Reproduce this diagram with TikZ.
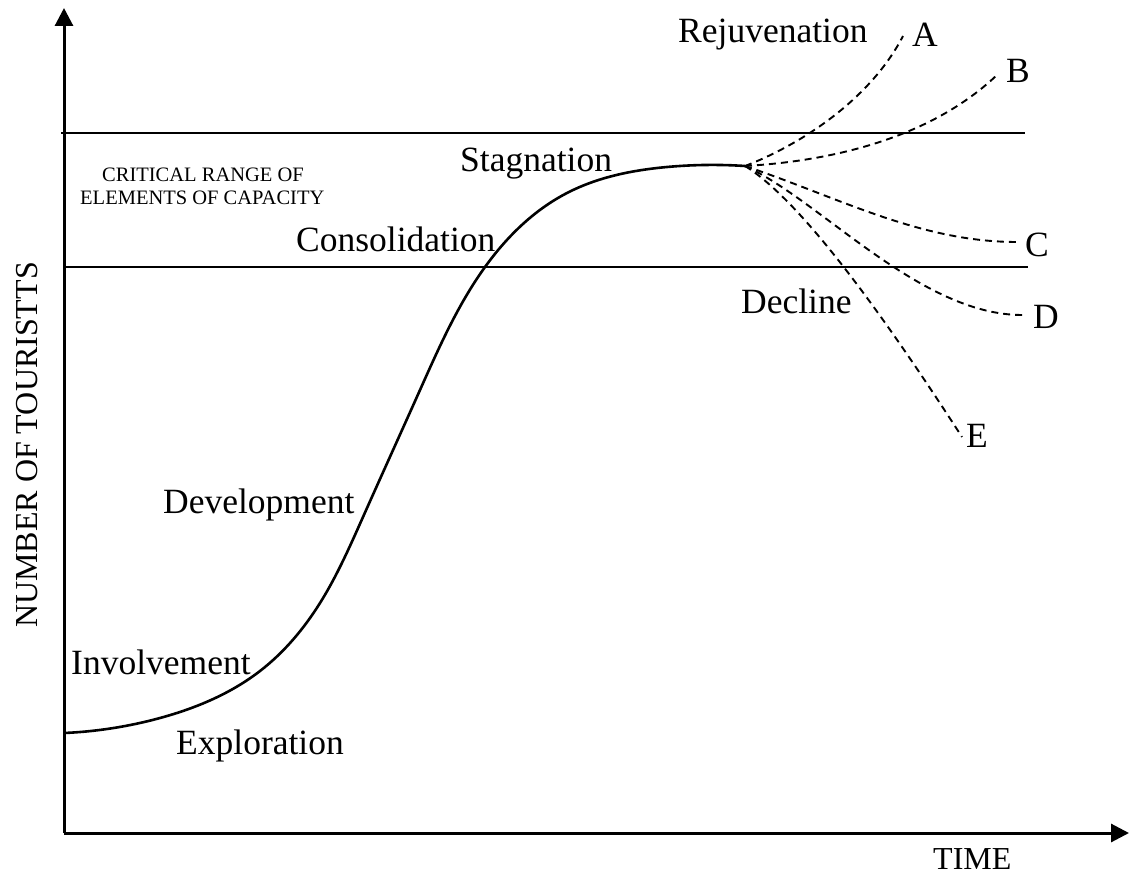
\documentclass[tikz,border=0pt]{standalone}
\usepackage{fontspec}
\setmainfont{Liberation Serif}
\usetikzlibrary{arrows.meta,hobby}
\begin{document}
\begin{tikzpicture}[x=1pt,y=-1pt,
  axis/.style={line width=3pt,-{Triangle[length=18pt,width=18pt]}},
  limit/.style={line width=2.8pt},
  life/.style={line width=2.6pt},
  branch/.style={line width=1.9pt,dash pattern=on 7pt off 5pt},
  stage/.style={inner sep=0pt,anchor=base west,font=\fontsize{35.5}{40}\selectfont},
  small/.style={inner sep=0pt,anchor=base west,font=\fontsize{20.5}{24}\selectfont},
  axislabel/.style={inner sep=0pt,anchor=base west,font=\fontsize{32}{36}\selectfont}]
\useasboundingbox (0,0) rectangle (1131,874);

% axes
\coordinate (origin) at (64,833);
\coordinate (ytop) at (64,8);
\coordinate (xend) at (1129,833);
\draw[axis] (origin) -- (ytop);
\draw[axis] (origin) -- (xend);

% critical range of capacity
\coordinate (hiL) at (61,133);
\coordinate (hiR) at (1025,133);
\coordinate (loL) at (64,267);
\coordinate (loR) at (1028,267);
\draw[limit] (hiL) -- (hiR);
\draw[limit,line width=2.5pt] (loL) -- (loR);

% life cycle curve: slow start, steep growth, levelling off
\coordinate (start) at (64,733);
\coordinate (split) at (745,166);
\draw[life,use Hobby shortcut] (start) .. (160,718) .. (260,671) .. (320,603)
   .. (363,517) .. (420,390) .. (485,267) .. (567,193) .. (667,167) .. (split);

% outcome labels and branch ends
\node[stage] (A) at (912,47) {A};
\node[stage] (B) at (1006,83) {B};
\node[stage] (C) at (1025,257) {C};
\node[stage] (D) at (1033,328) {D};
\node[stage] (E) at (966,447) {E};
\coordinate (endA) at (903,36);
\coordinate (endB) at (998,74);
\coordinate (endC) at (1017,242);
\coordinate (endD) at (1022,315);
\coordinate (endE) at (962,437);

\draw[branch] (split) .. controls (800,145) and (870,100) .. (endA);
\draw[branch] (split) .. controls (850,160) and (940,130) .. (endB);
\draw[branch] (split) .. controls (840,198) and (920,242) .. (endC);
\draw[branch] (split) .. controls (820,200) and (920,315) .. (endD);
\draw[branch] (split) .. controls (800,200) and (880,310) .. (endE);

% stage names
\node[stage] (rejuv) at (678,43) {Rejuvenation};
\node[stage] (stag) at (460,172) {Stagnation};
\node[stage] (consol) at (296,252) {Consolidation};
\node[stage] (decline) at (741,313) {Decline};
\node[stage] (devel) at (163,513) {Development};
\node[stage] (involve) at (71,674) {Involvement};
\node[stage] (explore) at (176,754) {Exploration};

% capacity note
\node[small] (crit1) at (102,182) {CRITICAL RANGE OF};
\node[small] (crit2) at (80,205) {ELEMENTS OF CAPACITY};

% axis titles
\node[axislabel] (time) at (933,869) {TIME};
\node[axislabel,rotate=90] (tourists) at (37,628) {NUMBER OF TOURISTTS};
\end{tikzpicture}
\end{document}
